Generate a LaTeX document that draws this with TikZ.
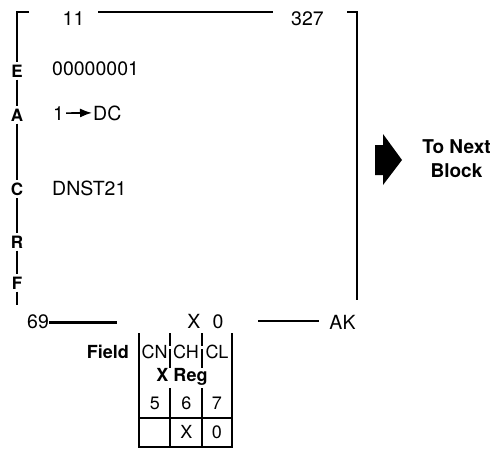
\documentclass[tikz,border=0pt]{standalone}
\usepackage{fontspec}
\setmainfont{TeX Gyre Heros}
\usetikzlibrary{arrows.meta}
\begin{document}
\begin{tikzpicture}[x=1pt,y=-1pt,
  txt/.style={font=\fontsize{19.5}{22}\selectfont, inner sep=0pt, anchor=base},
  lbl/.style={font=\fontsize{17}{20}\selectfont\bfseries, inner xsep=0pt, inner ysep=2.5pt, anchor=base},
  tbl/.style={font=\fontsize{18}{21}\selectfont, inner sep=0pt, anchor=base},
  tblb/.style={font=\fontsize{18}{21}\selectfont\bfseries, inner sep=0pt, anchor=base},
  hdr/.style={font=\fontsize{19}{22}\selectfont\bfseries, inner sep=0pt, anchor=base},
  frame/.style={line width=2.9pt, line join=miter},
  gridline/.style={line width=1.3pt}]
\useasboundingbox (0,0) rectangle (498,450);

% left side with letters
\coordinate (tl) at (17,12);
\coordinate (tls) at (29,12);
\coordinate (bl) at (17,305);
\node[lbl] (E) at (17,77) {E};
\node[lbl] (A) at (17,121) {A};
\node[lbl] (C) at (17,195) {C};
\node[lbl] (R) at (17,248) {R};
\node[lbl] (F) at (17,289) {F};
\draw[frame] (tls) -- (tl) -- (E.north);
\draw[frame] (E.south) -- (A.north);
\draw[frame] (A.south) -- (C.north);
\draw[frame] (C.south) -- (R.north);
\draw[frame] (R.south) -- (F.north);
\draw[frame] (F.south) -- (bl);

% top line
\node[txt] (n11) at (73.5,25) {11};
\node[txt] (n327) at (307.5,25) {327};
\coordinate (t1) at (98,12);
\coordinate (t2) at (273,12);
\draw[frame] (t1) -- (t2);
\coordinate (trs) at (347,12);
\coordinate (tr) at (357,12);
\coordinate (br) at (357,300);
\draw[frame] (trs) -- (tr) -- (br);

% contents
\node[txt, anchor=base west] (v1) at (52,75) {00000001};
\node[txt, anchor=base west] (one) at (53,120) {1};
\node[txt, anchor=base west] (dc) at (93,120) {DC};
\draw[line width=1.6pt, -{Latex[length=12pt,width=9pt]}] ([xshift=2pt]one.east) -- ([xshift=-1pt]dc.west);
\node[txt, anchor=base west] (dnst) at (52,195) {DNST21};

% bottom line
\node[txt] (n69) at (38,328) {69};
\coordinate (b1) at (117,322.5);
\draw[frame] (n69.east |- b1) -- (b1);
\node[txt] (bx) at (194,328) {X};
\node[txt] (b0) at (218,328) {0};
\node[txt] (ak) at (342.5,329) {AK};
\coordinate (b2) at (258,321);
\coordinate (b3) at (319,321);
\draw[frame] (b2) -- (b3);

% arrow to next block
\fill (375,145) -- (383,145) -- (383,134) -- (402,160) -- (383,185) -- (383,175) -- (375,175) -- cycle;
\node[hdr] (tonext) at (456.5,153) {To Next};
\node[hdr] (block) at (456.5,177) {Block};

% X register table
\node[tblb, anchor=base east] (field) at (129,358) {Field};
\node[tbl] (cn) at (154.5,358) {CN};
\node[tbl] (ch) at (186,358) {CH};
\node[tbl] (cl) at (217,358) {CL};
\node[tblb] (xreg) at (182,381) {X Reg};
\node[tbl] (c5) at (155,409) {5};
\node[tbl] (c6) at (186.5,409) {6};
\node[tbl] (c7) at (217,409) {7};
\node[tbl] (vx) at (186.5,438) {X};
\node[tbl] (v0) at (217,438) {0};
\draw[gridline] (139,333) -- (139,447) -- (232,447) -- (232,333);
\draw[gridline] (139,418) -- (232,418);
\draw[gridline] (170,388) -- (170,447);
\draw[gridline] (202,388) -- (202,447);
\draw[gridline] (170,333) -- (170,346) (170,349) -- (170,368);
\draw[gridline] (202,333) -- (202,346) (202,349) -- (202,368);
\end{tikzpicture}
\end{document}
